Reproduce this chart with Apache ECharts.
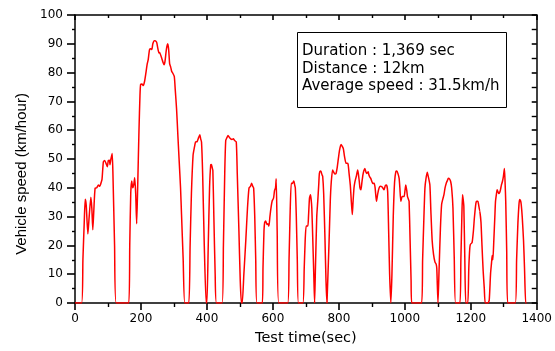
<!DOCTYPE html>
<html>
<head>
<meta charset="utf-8">
<script src="https://cdn.jsdelivr.net/npm/echarts@6/dist/echarts.min.js"></script>
<style>
html,body{margin:0;padding:0;background:#fff;}
#chart{width:555px;height:351px;}
</style>
</head>
<body>
<div id="chart"></div>
<script>
var times = [0,20,24,28,31,34,39,43,48,51,54,57,61,66,71,75,79.5,82,86,90,94,98,101,104.5,106,109,112.7,115,120,125,
163,166,169,172,175,178,181,184,187,190,194,197,199,203,207,211,215,219,222,226,230,233,236,240.5,244,247.7,251,254.7,257,259,263,267,270,273,277,281,284,287,290,293,296,301,304,308,312,316,320,323,328,333,
345,349,353,358,362,365.5,370,375,378.5,381,383.6,387,392,397.7,
400,404,408,411.5,413.8,416,418,421,425,429,
446,450,454,457,461,464,468,472,476,480,484,489,492,497,501,504.5,
507,512,518,523,527.6,532,535.6,539,541.7,545,548,551.7,
568,570,573,575,578,582,585,588,591,595,598,602,605,608,610,613,618,
645,649,652,655.6,659,663.5,666,668,671,674,677.6,
691,695,698,701,706,708,711,714,716,718,721,724,726.5,
729,733,736,739,741,744,746,749,751,754,758,761,764,
766,770,774,777,781,784,788,791.5,795,798.6,802,806.6,810,813.6,817,821.7,825,828,831,834.7,838,840.8,843,846,849,853,857,859,862,864,867,870,873,876,879,882,885,889,891,894,897,900,903,907,910,914,918,922,926,930,933,937,941,944.5,948,951,954,957.6,
961,965,969,972.8,976,979,982.8,985,988,992,995,998,1001,1003,1006,1008,1011,1013,1016,1019,1021,
1051,1054,1058,1061,1064,1068,1071,1076,1079,1083,1087,1091.5,1095,1097,1100.6,
1104,1108,1111.6,1115,1118.7,1122,1125.7,1129,1132,1136,1139,1142,1146,1150,1154,
1167,1170,1173,1175,1177,1179,1182,1185,
1191,1194,1197,1199,1204,1208,1211,1215.6,1218,1221.5,1224,1227.5,1229,1231,1234,1237.5,1241,1244,
1252,1256,1260,1263,1265,1267,1270,1273,1275,1278,1280,1283,1285,1288,1290,1293,1296,1299,1302,1304,1306,1309,1312,
1335,1339,1343,1346,1348,1351,1353,1356,1360,1363,1366.5,1369];
var speeds = [0,0,15,28,36,34,24,30,36.7,33,25.4,32,39.9,40,41,40.5,41.9,43,49,49.5,48.5,47.3,49.5,49.6,48,50,51.9,45,20,0,
0,20,38,42.4,40,41,43.5,38,27.5,40,60,72,75.9,76,75.5,77,79.9,83,84.5,88,88.3,88,90,91.1,91,90.5,88.5,86.8,87,87,85,83.5,82.7,84,88,90,88,83,82,80.5,79.9,78.7,74,67.3,58,49,40,30.7,15,0,
0,20,38,51.3,54,55.9,56,57.5,58.4,57,55.9,45,20,0,
0,20,40,48,48.1,47,46,30,10,0,
0,20,45,56.4,57.5,58.2,57.5,57,56.8,57,56.4,55.9,45,25,8,0,
0,10,22,33,39.9,40.5,41.6,40.5,39.9,30,15,0,
0,12,25,27.9,28.5,27.3,27.5,26.7,30,33.6,35.5,36.4,39,40,43.1,25,0,
0,15,30,41.6,41.5,42.4,41,40,30,15,0,
0,12,22,26.7,26.7,30,36.4,37.6,36,33,22,10,0,
12,30,35.3,41,45,45.8,45.6,44.5,44,38,22,8,0,
0,20,35.3,42,46.2,45.5,44.8,45,47,50.2,53,55,54.5,53.6,51,48.5,48.5,48.2,45,41,35,30.7,35,40,42.2,44,46.2,45,42.2,40,39.3,42,44.5,46,46.7,45.5,45,45.6,44.5,43.7,43.2,42.2,41.5,41.6,40,35.3,38,39.9,40.5,40.4,40,39.3,40.8,41,38.7,25,10,0,
10,30,42,45.6,45.8,45,43.3,40,35.3,37,37,37,39.5,41,39,37,36,35.3,22,8,0,
0,15,30,39.9,43,45.4,44,41,32,21.6,17,14.2,13.5,12,0,
12,26,34.2,36,37.6,40,41.6,42.5,43.3,43,42.2,40,33,15,0,
0,15,30,37.6,36,33.6,15,0,
0,12,19,20.4,21,25,29.6,34.7,35.3,35.3,34,31.9,32,28,20,11.3,5,0,
0,1,10.2,14,16.5,15,22,30,35.3,38,39.3,38.5,38,38.5,39.3,41,42.2,44,46.7,42,35.3,18,0,
0,15,28,34,35.9,35.5,34.2,30,21.6,12,0,0];
var xTicks = [0,200,400,600,800,1000,1200,1400];
var yTicks = [0,10,20,30,40,50,60,70,80,90,100];
var infoLines = ['Duration : 1,369 sec','Distance : 12km','Average speed : 31.5km/h'];

var pts = times.map(function(t,i){return [t, speeds[i]];});
var FONT = 'DejaVu Sans';
function ax(onZero){var o={show:true, lineStyle:{color:'#000000', width:1.5}}; if(onZero===false){o.onZero=false;} return o;}
function tk(len, inside){var o={show:true, length:len, lineStyle:{color:'#000000', width:1.6}}; if(inside){o.inside=true;} return o;}
function mtk(len, n){return {show:true, splitNumber:n, length:len, lineStyle:{color:'#000000', width:1.4}};}
function sl(){return {show:true, lineStyle:{color:'rgba(0,0,0,0)', width:0}};}

var chart = echarts.init(document.getElementById('chart'), null, {renderer:'canvas'});
chart.setOption({
  backgroundColor:'#fff',
  animation:false,
  grid:{left:75, right:17, top:15, bottom:45},
  xAxis:[{
    type:'value', min:xTicks[0], max:xTicks[xTicks.length-1], interval:200,
    name:'Test time(sec)', nameLocation:'middle', nameGap:28,
    nameTextStyle:{fontFamily:FONT, fontSize:14.5, color:'#000'},
    axisLine:ax(), axisTick:tk(7,false), minorTick:mtk(4,2),
    axisLabel:{fontFamily:FONT, fontSize:12, color:'#000', margin:10, formatter:function(v){return String(v);}},
    splitLine:sl()
  },{
    type:'value', position:'top', min:xTicks[0], max:xTicks[xTicks.length-1], interval:200,
    axisLine:ax(false), axisTick:tk(5,true), minorTick:mtk(3,2),
    axisLabel:{show:false}, splitLine:sl()
  }],
  yAxis:[{
    type:'value', min:yTicks[0], max:yTicks[yTicks.length-1], interval:10,
    name:'Vehicle speed (km/hour)', nameLocation:'middle', nameGap:45, nameRotate:90,
    nameTextStyle:{fontFamily:'Liberation Sans', fontSize:15, color:'#000', padding:[0,30,0,0]},
    axisLine:ax(), axisTick:tk(8,false), minorTick:mtk(3,2),
    axisLabel:{fontFamily:FONT, fontSize:12, color:'#000', margin:12},
    splitLine:sl()
  },{
    type:'value', position:'right', min:yTicks[0], max:yTicks[yTicks.length-1], interval:10,
    axisLine:ax(false), axisTick:tk(5,true), minorTick:mtk(5,2),
    axisLabel:{show:false}, splitLine:sl()
  }],
  series:[{
    type:'line', data:pts, showSymbol:false, symbol:'none',
    lineStyle:{color:'#ff0000', width:1.5}, smooth:0.2
  }],
  graphic:[
    {type:'rect', left:297, top:32, shape:{width:209, height:75}, style:{fill:'#fff', stroke:'#000', lineWidth:1}, z:10},
    {type:'text', x:302, y:51.5, style:{text:infoLines[0], font:'15px "DejaVu Sans"', fill:'#000', verticalAlign:'middle'}, z:11},
    {type:'text', x:302, y:69, style:{text:infoLines[1], font:'15px "DejaVu Sans"', fill:'#000', verticalAlign:'middle'}, z:11},
    {type:'text', x:302, y:86.5, style:{text:infoLines[2], font:'15px "DejaVu Sans"', fill:'#000', verticalAlign:'middle'}, z:11}
  ]
});
</script>
</body>
</html>
